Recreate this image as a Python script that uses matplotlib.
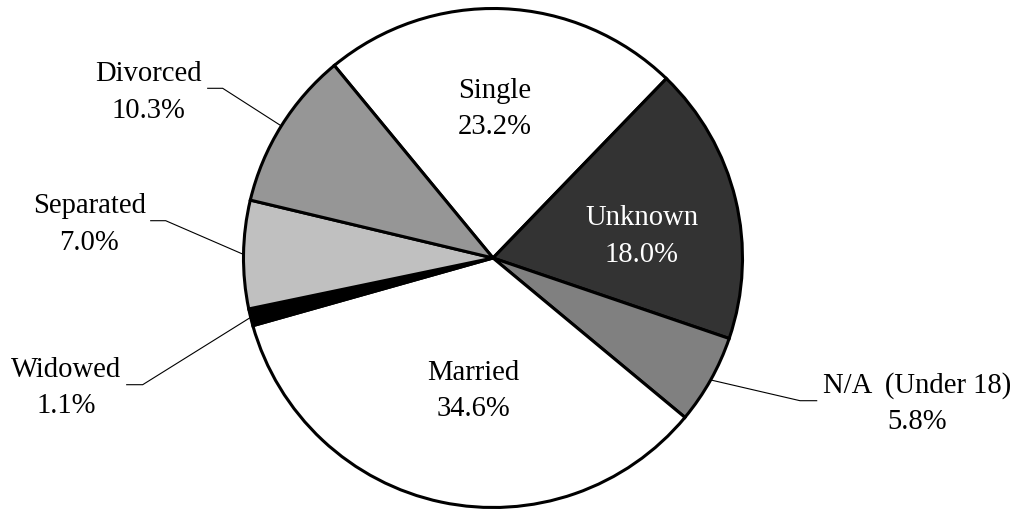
import numpy as np
import matplotlib
matplotlib.use("Agg")
import matplotlib.pyplot as plt

# ---- data ----
categories = ["Single", "Unknown", "N/A  (Under 18)", "Married", "Widowed", "Separated", "Divorced"]
values = [23.2, 18.0, 5.8, 34.6, 1.1, 7.0, 10.3]
colors = ["#ffffff", "#333333", "#808080", "#ffffff", "#000000", "#c0c0c0", "#969696"]
text_colors = ["black", "white", "black", "black", "black", "black", "black"]

W, H = 1019, 510
fig = plt.figure(figsize=(W / 100, H / 100), dpi=100)
ax = fig.add_axes([0, 0, 1, 1])
ax.set_xlim(0, W)
ax.set_ylim(0, H)
ax.axis("off")

cx, cy, R = 493, H - 259, 249.5
start = 129.5
wedges, _ = ax.pie(values, colors=colors, startangle=start, counterclock=False,
                   center=(cx, cy), radius=R, frame=True,
                   wedgeprops=dict(edgecolor="black", linewidth=2.2, antialiased=True))
ax.set_xlim(0, W)
ax.set_ylim(0, H)
ax.set_aspect("equal")
ax.axis("off")

font = dict(family=["Liberation Serif", "DejaVu Serif"], fontsize=20.6)

# label layout: (center x, first baseline y in pixels from top)
layout = {
    "Single": (494.5, 98),
    "Unknown": (642, 225),
    "N/A  (Under 18)": (916.7, 392.7),
    "Married": (473, 380),
    "Widowed": (66, 376.7),
    "Separated": (89.5, 213),
    "Divorced": (148.5, 81),
}
line_gap = 36.5

# leader lines: elbow point, end point (pixels from top)
leaders = {
    "Divorced": ((222.7, 89.3), (207.7, 89.3)),
    "Separated": ((165.7, 221.7), (150.7, 221.7)),
    "Widowed": ((142.7, 385.7), (126.7, 385.7)),
    "N/A  (Under 18)": ((800, 401.7), (816.7, 401.7)),
}

for w, name, v, tc in zip(wedges, categories, values, text_colors):
    x, yb = layout[name]
    ax.text(x, H - yb, name, ha="center", va="baseline", color=tc, **font)
    ax.text(x, H - yb - line_gap, f"{v:.1f}%", ha="center", va="baseline", color=tc, **font)
    if name in leaders:
        mid = np.deg2rad((w.theta1 + w.theta2) / 2)
        ax0 = cx + R * np.cos(mid)
        ay0 = cy + R * np.sin(mid)
        (ex, ey), (fx, fy) = leaders[name]
        ax.plot([ax0, ex, fx], [ay0, H - ey, H - fy], color="black", lw=0.8,
                solid_joinstyle="miter", zorder=0.5)

fig.savefig("out.png", dpi=100)
